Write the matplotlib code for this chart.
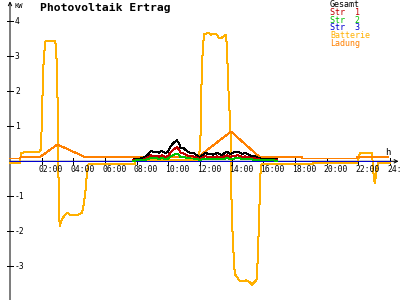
import matplotlib
matplotlib.use('Agg')
import matplotlib.pyplot as plt

plt.rcParams['font.family'] = ['DejaVu Sans Mono']

# --- Daten (Stunde, kW) ---
bat_h = [0, 0.63, 0.69, 1.85, 1.89, 1.94, 1.98, 2.04, 2.10, 2.19, 2.25, 2.84, 2.91, 2.99,
         3.03, 3.08, 3.11, 3.16, 3.22, 3.35, 3.54, 3.66, 3.79, 4.29, 4.55, 4.67, 4.76, 4.84,
         4.93, 4.99, 7.89, 7.96, 11.87, 11.96, 12.04, 12.11, 12.19, 12.27, 12.38, 12.57,
         12.69, 12.88, 13.07, 13.20, 13.33, 13.52, 13.64, 13.71, 13.77, 13.83, 13.90, 13.96,
         14.00, 14.08, 14.15, 14.21, 14.34, 14.53, 14.72, 14.91, 15.16, 15.28, 15.41, 15.60,
         15.66, 15.73, 15.79, 15.85, 15.92, 19.14, 19.17, 21.92, 22.11, 22.86, 22.99, 23.05,
         23.12, 23.18, 23.24, 24.0]
bat_kw = [-0.05, -0.05, 0.25, 0.26, 0.31, 0.31, 0.68, 1.67, 2.66, 3.23, 3.45, 3.45, 3.29, 2.21,
          0.65, -1.02, -1.67, -1.84, -1.73, -1.61, -1.50, -1.47, -1.53, -1.53, -1.47, -1.19,
          -0.88, -0.45, -0.11, -0.07, -0.07, 0.04, 0.04, 0.23, 0.79, 2.58, 3.34, 3.63, 3.65,
          3.67, 3.62, 3.63, 3.62, 3.51, 3.52, 3.57, 3.62, 3.23, 2.29, 1.73, 1.16, 0.31,
          -1.59, -2.24, -2.95, -3.23, -3.31, -3.43, -3.43, -3.40, -3.46, -3.54, -3.46, -3.37,
          -2.52, -1.76, -0.62, -0.11, -0.08, -0.08, -0.05, -0.05, 0.25, 0.25, -0.54, -0.62,
          -0.34, -0.20, -0.05, -0.05]

lad_h = [0, 0.63, 0.69, 1.89, 2.99, 4.74, 11.87, 13.96, 15.79, 18.44, 18.46, 21.92, 21.94, 23.87]
lad_kw = [0.08, 0.08, 0.12, 0.12, 0.48, 0.12, 0.12, 0.85, 0.11, 0.11, 0.08, 0.08, 0.12, 0.12]

pv_h = [7.77, 8.40, 8.72, 8.89, 9.03, 9.27, 9.41, 9.58, 9.79, 9.98, 10.15, 10.32, 10.53,
        10.68, 10.78, 10.95, 11.16, 11.37, 11.58, 11.79, 12.0, 12.32, 12.53, 12.84, 13.10,
        13.37, 13.69, 13.90, 14.21, 14.42, 14.64, 14.84, 15.16, 15.48, 15.79, 16.0, 16.42,
        16.85]
gesamt = [0.05, 0.09, 0.19, 0.30, 0.27, 0.28, 0.24, 0.30, 0.24, 0.27, 0.43, 0.52, 0.60,
          0.52, 0.38, 0.38, 0.30, 0.24, 0.24, 0.17, 0.11, 0.24, 0.21, 0.19, 0.24, 0.17,
          0.28, 0.21, 0.27, 0.28, 0.21, 0.24, 0.17, 0.14, 0.08, 0.08, 0.07, 0.07]
str1 = [0.03, 0.05, 0.11, 0.17, 0.15, 0.16, 0.13, 0.17, 0.13, 0.15, 0.26, 0.33, 0.40,
        0.33, 0.24, 0.23, 0.18, 0.14, 0.14, 0.10, 0.07, 0.14, 0.13, 0.12, 0.14, 0.11,
        0.17, 0.13, 0.16, 0.17, 0.13, 0.14, 0.10, 0.08, 0.05, 0.05, 0.05, 0.05]
str2 = [0.02, 0.03, 0.06, 0.09, 0.08, 0.09, 0.07, 0.09, 0.07, 0.08, 0.14, 0.18, 0.22,
        0.18, 0.12, 0.12, 0.10, 0.08, 0.08, 0.06, 0.04, 0.08, 0.07, 0.06, 0.08, 0.06,
        0.09, 0.07, 0.08, 0.09, 0.07, 0.08, 0.06, 0.04, 0.03, 0.03, 0.03, 0.02]
str3_h = [0, 24]
str3 = [0, 0]

x_ticks = [2, 4, 6, 8, 10, 12, 14, 16, 18, 20, 22, 24]
x_labels = ['02:00', '04:00', '06:00', '08:00', '10:00', '12:00', '14:00', '16:00',
            '18:00', '20:00', '22:00', '24:00']
y_ticks = [-3, -2, -1, 1, 2, 3, 4]

legend = [('Gesamt', 'black'), ('Str  1', '#c00000'), ('Str  2', '#00c000'),
          ('Str  3', '#0000d0'), ('Batterie', '#ffb000'), ('Ladung', '#ff8000')]

# Pixel-Geometrie des Originals
px_h = 15.83   # Pixel pro Stunde
px_kw = 35.0   # Pixel pro kW
LW = 0.72      # 1 Pixel

fig = plt.figure(figsize=(4, 3), dpi=100)
ax = fig.add_axes([0, 0, 1, 1])
ax.set_xlim(-10 / px_h, 24 + 10 / px_h)
ax.set_ylim(-(300 - 161.3) / px_kw, 161.3 / px_kw)
ax.axis('off')

# Achsen mit Pfeilen (unter den Kurven)
ax.annotate('', xy=(388.5 / px_h, 0), xytext=(0, 0), zorder=1,
            arrowprops=dict(arrowstyle='->', lw=LW, color='black',
                            shrinkA=0, shrinkB=0, mutation_scale=6))
ax.annotate('', xy=(0, 160 / px_kw), xytext=(0, -4.5), zorder=1,
            arrowprops=dict(arrowstyle='->', lw=LW, color='black',
                            shrinkA=0, shrinkB=0, mutation_scale=6))

for h, lab in zip(x_ticks, x_labels):
    ax.plot([h, h], [-3 / px_kw, 3 / px_kw], color='black', lw=LW, antialiased=False, zorder=1)
    ax.text(h - 3 / px_h, -3.8 / px_kw, lab, fontsize=5.8, ha='left', va='top')
for v in y_ticks:
    ax.plot([-3 / px_h, 3 / px_h], [v, v], color='black', lw=LW, antialiased=False, zorder=1)
    ax.text(5 / px_h, v, str(v), fontsize=5.8, ha='left', va='center')

ax.text(4 / px_h, 155 / px_kw, 'KW', fontsize=5, ha='left', va='center')
ax.text(375 / px_h, 9 / px_kw, 'h', fontsize=6.5, ha='left', va='center')

# Kurven
ax.plot(pv_h, gesamt, color='black', lw=LW, antialiased=False, zorder=3)
ax.plot(pv_h, str1, color='#c00000', lw=LW, antialiased=False, zorder=3)
ax.plot(pv_h, str2, color='#00c000', lw=LW, antialiased=False, zorder=3)
ax.plot(bat_h, bat_kw, color='#ffb000', lw=LW, antialiased=False, zorder=2)
ax.plot(lad_h, lad_kw, color='#ff8000', lw=LW, antialiased=False, zorder=2)
ax.plot(str3_h, str3, color='#0000d0', lw=LW, antialiased=False, zorder=2.5)

# Titel und Legende
fig.text(40 / 400, 1 - 7.5 / 300, 'Photovoltaik Ertrag', fontsize=8.2, fontweight='bold',
         ha='left', va='center')
for i, (name, col) in enumerate(legend):
    fig.text(330 / 400, 1 - (4.7 + 7.75 * i) / 300, name, fontsize=6, color=col,
             ha='left', va='center')

fig.savefig('out.png', dpi=100)
